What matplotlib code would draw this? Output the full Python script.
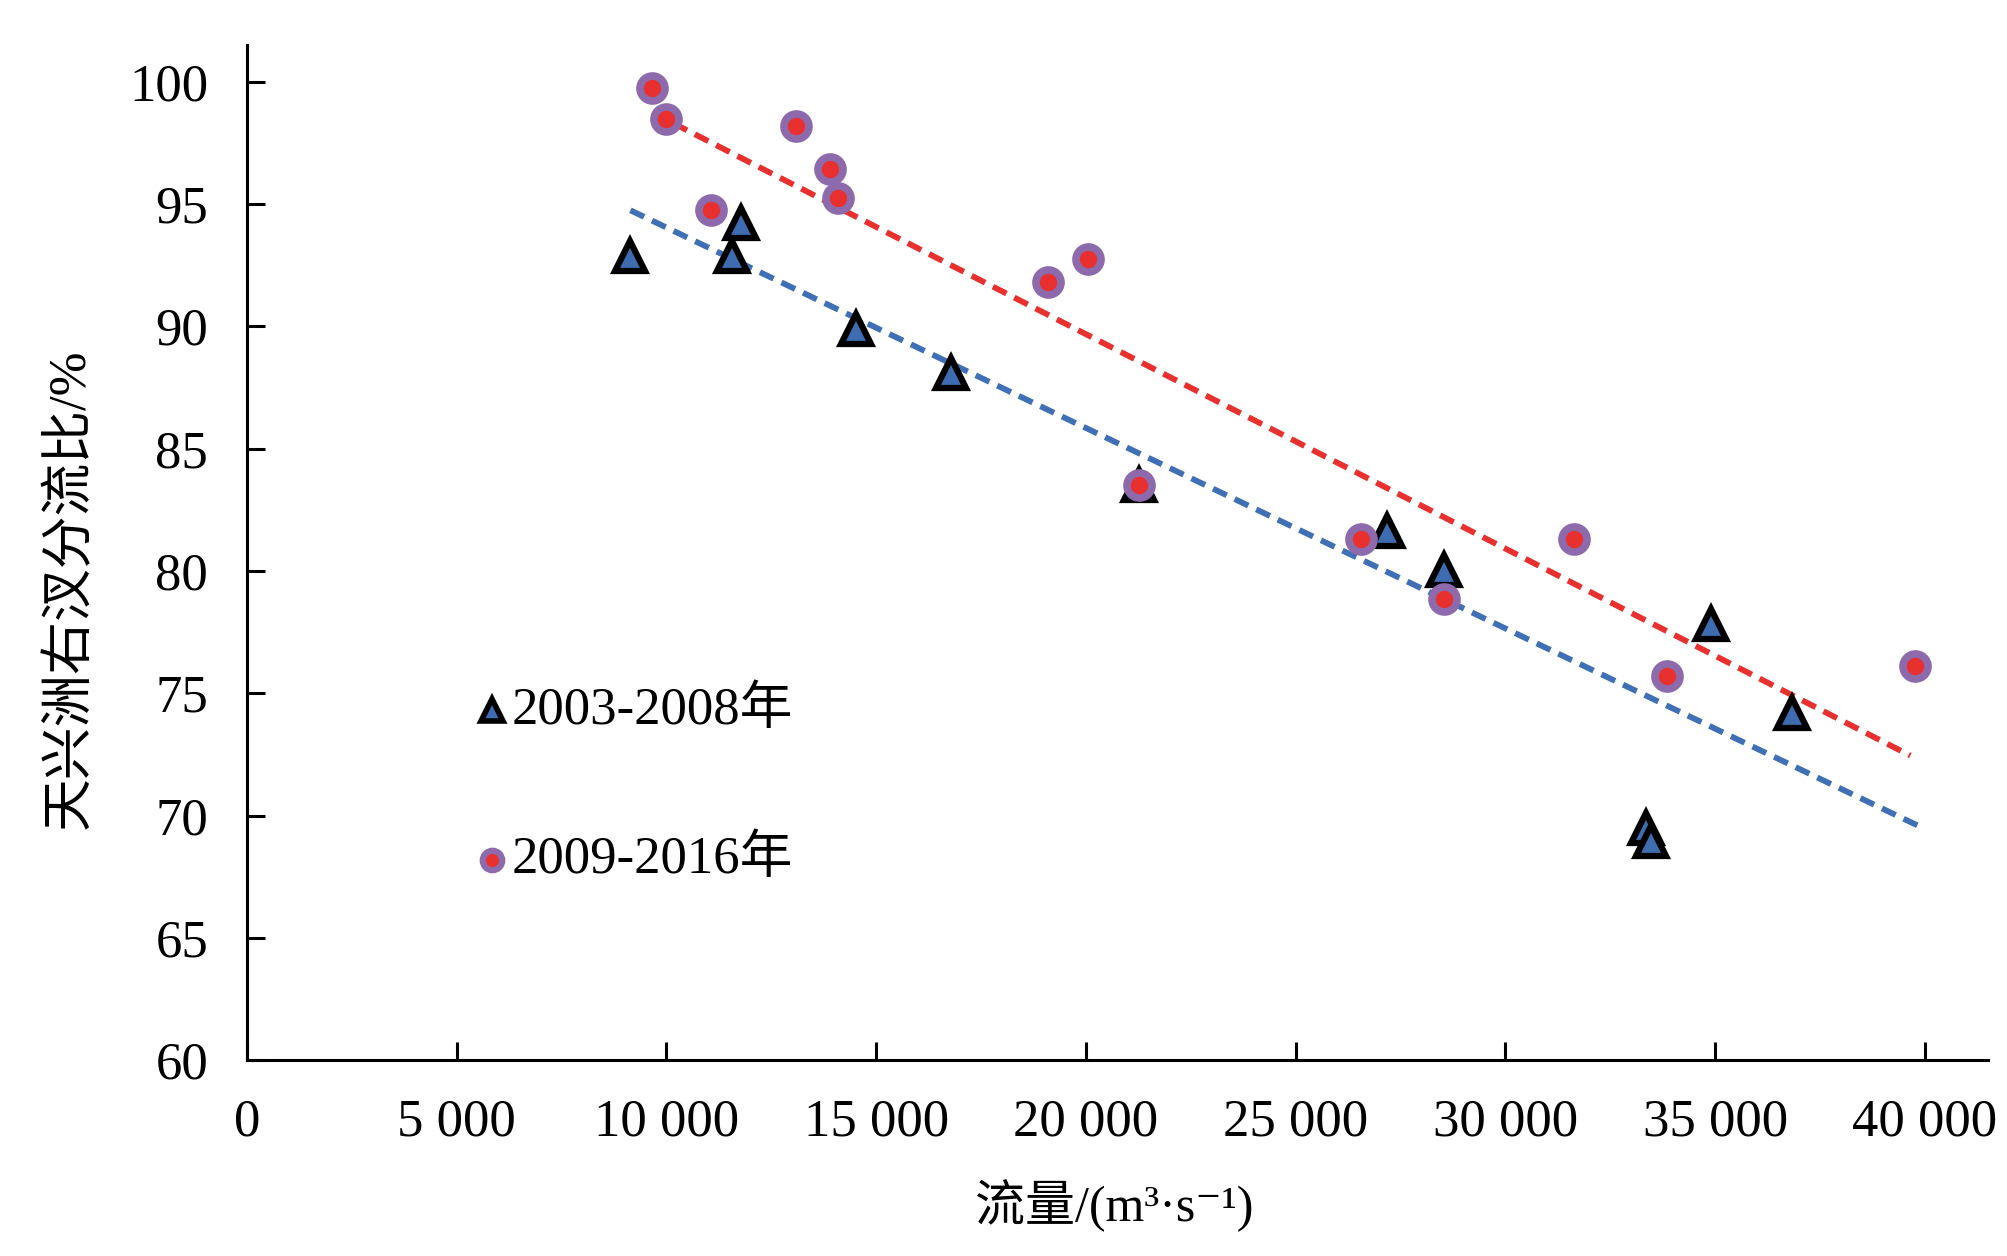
import numpy as np
import matplotlib
matplotlib.use("Agg")
import matplotlib.pyplot as plt

plt.rcParams['font.family'] = ['Liberation Serif', 'Noto Sans CJK SC', 'DejaVu Sans']

# 2003-2008 (triangles)
q_0308 = [9140, 11550, 11770, 14520, 16780, 21270, 27170, 28540, 33340, 33460, 34900, 36820]
r_0308 = [92.9, 92.9, 94.25, 89.9, 88.1, 83.5, 81.65, 80.05, 69.5, 68.95, 77.85, 74.2]

# 2009-2016 (circles)
q_0916 = [9660, 9990, 11060, 13080, 13900, 14090, 19100, 20050, 21270, 26550, 28540, 31630, 33860, 39750]
r_0916 = [99.75, 98.5, 94.75, 98.2, 96.45, 95.25, 91.8, 92.75, 83.5, 81.3, 78.85, 81.3, 75.7, 76.1]

# trend line ends
trend_q_0308 = [9140, 40000]
trend_r_0308 = [94.75, 69.45]
trend_q_0916 = [9660, 39650]
trend_r_0916 = [98.75, 72.45]

xticks = [0, 5000, 10000, 15000, 20000, 25000, 30000, 35000, 40000]
xtick_labels = ['0', '5 000', '10 000', '15 000', '20 000', '25 000', '30 000', '35 000', '40 000']
yticks = [60, 65, 70, 75, 80, 85, 90, 95, 100]

red = '#e8312f'
blue = '#3f6fb5'
tri_fill = '#3d6db0'
circ_edge = '#8c6aab'

fig = plt.figure(figsize=(20.08, 12.56), dpi=100)
ax = fig.add_axes([0.123, 0.156, 0.867, 0.808])

# trend lines
ax.plot(trend_q_0308, trend_r_0308, color=blue, lw=4.2, linestyle=(0, (2.6, 1.5)), zorder=2)
ax.plot(trend_q_0916, trend_r_0916, color=red, lw=4.2, linestyle=(0, (2.6, 1.5)), zorder=2)

# points
ax.plot(q_0308, r_0308, linestyle='none', marker='^', ms=22, mfc=tri_fill, mec='black', mew=4.5, zorder=3)
ax.plot(q_0916, r_0916, linestyle='none', marker='o', ms=18, mfc=red, mec=circ_edge, mew=5.5, zorder=4)

# legend drawn as in the picture
ax.plot([5830], [74.3], linestyle='none', marker='^', ms=16, mfc=tri_fill, mec='black', mew=4)
ax.text(6300, 74.3, '2003-2008年', fontsize=38, va='center', ha='left')
ax.plot([5830], [68.2], linestyle='none', marker='o', ms=14, mfc=red, mec=circ_edge, mew=4.5)
ax.text(6300, 68.2, '2009-2016年', fontsize=38, va='center', ha='left')

ax.set_xlim(0, 41500)
ax.set_ylim(60, 101.5)
ax.set_xticks(xticks)
ax.set_xticklabels(xtick_labels)
ax.set_yticks(yticks)

for side in ['top', 'right']:
    ax.spines[side].set_visible(False)
for side in ['left', 'bottom']:
    ax.spines[side].set_linewidth(2.2)

ax.tick_params(axis='both', direction='in', length=13, width=2.2, labelsize=38, pad=28)

ax.set_xlabel('流量/(m³·s⁻¹)', fontsize=36)
ax.set_ylabel('天兴洲右汊分流比/%', fontsize=38)
ax.xaxis.set_label_coords(0.498, -0.118)
ax.yaxis.set_label_coords(-0.087, 0.464)

plt.savefig('out.png', dpi=100)
